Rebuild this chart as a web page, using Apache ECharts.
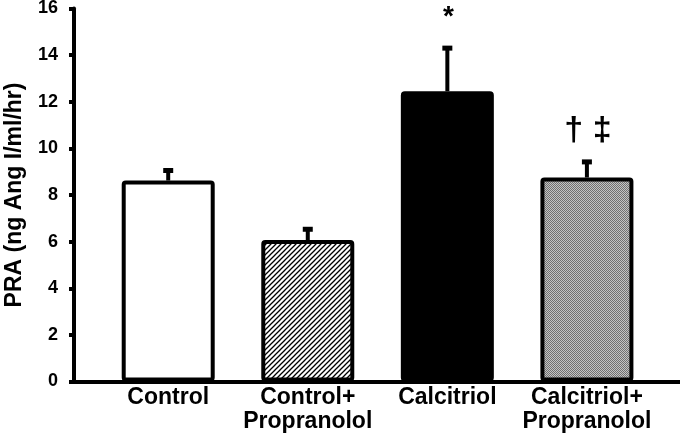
<!DOCTYPE html>
<html>
<head>
<meta charset="utf-8">
<script src="https://cdn.jsdelivr.net/npm/echarts@6/dist/echarts.min.js"></script>
<style>html,body{margin:0;padding:0;background:#fff;}#c{width:680px;height:436px;}</style>
</head>
<body>
<div id="c"></div>
<script>
// ---- data ----
var categories = ['Control', 'Control+\nPropranolol', 'Calcitriol', 'Calcitriol+\nPropranolol'];
var means = [8.62, 6.07, 12.45, 8.75];
var upperErrors = [9.05, 6.53, 14.3, 9.42];
var annotations = ['', '', '*', '\u2020 \u2021'];
var yTicks = [0, 2, 4, 6, 8, 10, 12, 14, 16];

// ---- styles ----
var annFontSizes = [0, 0, 28, 34];

function hatchPattern() {
  var c = document.createElement('canvas');
  c.width = 5; c.height = 5;
  var g = c.getContext('2d');
  g.fillStyle = '#fff'; g.fillRect(0, 0, 5, 5);
  g.strokeStyle = '#000'; g.lineWidth = 1.3;
  g.beginPath();
  g.moveTo(-1, 6); g.lineTo(6, -1);
  g.moveTo(-1, 1); g.lineTo(1, -1);
  g.moveTo(4, 6); g.lineTo(6, 4);
  g.stroke();
  return c;
}
function dotPattern() {
  var c = document.createElement('canvas');
  c.width = 2; c.height = 2;
  var g = c.getContext('2d');
  g.fillStyle = '#c4c4c4'; g.fillRect(0, 0, 2, 2);
  g.fillStyle = '#707070'; g.fillRect(0, 0, 1, 1); g.fillRect(1, 1, 1, 1);
  return c;
}
var fills = ['#ffffff', { image: hatchPattern(), repeat: 'repeat' }, '#000000', { image: dotPattern(), repeat: 'repeat' }];

var FONT = '"Liberation Sans", Arial, sans-serif';

var barData = means.map(function (v, i) {
  return { value: [i, v], itemStyle: { color: fills[i] } };
});
var errData = means.map(function (v, i) { return [i, v, upperErrors[i]]; });

var chart = echarts.init(document.getElementById('c'), null, { renderer: 'canvas' });
chart.setOption({
  animation: false,
  backgroundColor: '#ffffff',
  grid: { left: 74, right: 0, top: 8.5, bottom: 54.5, containLabel: false, outerBoundsMode: 'none' },
  xAxis: {
    type: 'value',
    min: -0.675,
    max: 3.667,
    axisLine: { show: true, onZero: false, lineStyle: { color: '#000', width: 4 } },
    axisTick: { show: false },
    splitLine: { show: false },
    axisLabel: {
      customValues: [0, 1, 2, 3],
      formatter: function (v) { return categories[Math.round(v)]; },
      color: '#000', fontSize: 23, fontWeight: 'bold', fontFamily: FONT,
      lineHeight: 24, margin: 4, align: 'center'
    }
  },
  yAxis: {
    type: 'value',
    min: yTicks[0],
    max: yTicks[yTicks.length - 1],
    interval: 2,
    name: 'PRA (ng Ang I/ml/hr)',
    nameLocation: 'middle',
    nameRotate: 90,
    nameGap: 48,
    nameTextStyle: { color: '#000', fontSize: 23, fontWeight: 'bold', fontFamily: FONT },
    axisLine: { show: true, onZero: false, lineStyle: { color: '#000', width: 4 } },
    axisTick: { show: true, inside: false, length: 5, lineStyle: { color: '#000', width: 4 } },
    splitLine: { show: false },
    axisLabel: { color: '#000', fontSize: 18, fontWeight: 'bold', fontFamily: FONT, margin: 16 }
  },
  series: [
    {
      type: 'custom',
      z: 1,
      data: errData,
      renderItem: function (params, api) {
        var x = api.value(0), m = api.value(1), e = api.value(2);
        var p0 = api.coord([x, m]);
        var p1 = api.coord([x, e]);
        var children = [
          { type: 'rect', shape: { x: p0[0] - 2, y: p1[1], width: 4, height: p0[1] - p1[1] }, style: { fill: '#000' } },
          { type: 'rect', shape: { x: p0[0] - 5, y: p1[1] - 2.5, width: 10, height: 5 }, style: { fill: '#000' } }
        ];
        var ann = annotations[params.dataIndex];
        if (ann) {
          children.push({
            type: 'text',
            style: {
              text: ann, x: p1[0] + 1, y: p1[1] - 31,
              align: 'center', verticalAlign: 'middle',
              fill: '#000', fontSize: annFontSizes[params.dataIndex], fontWeight: 'bold', fontFamily: FONT
            }
          });
        }
        return { type: 'group', children: children };
      }
    },
    {
      type: 'bar',
      z: 2,
      barWidth: 93,
      data: barData,
      itemStyle: { borderColor: '#000', borderWidth: 4, borderRadius: 2 }
    }
  ]
});
</script>
</body>
</html>
